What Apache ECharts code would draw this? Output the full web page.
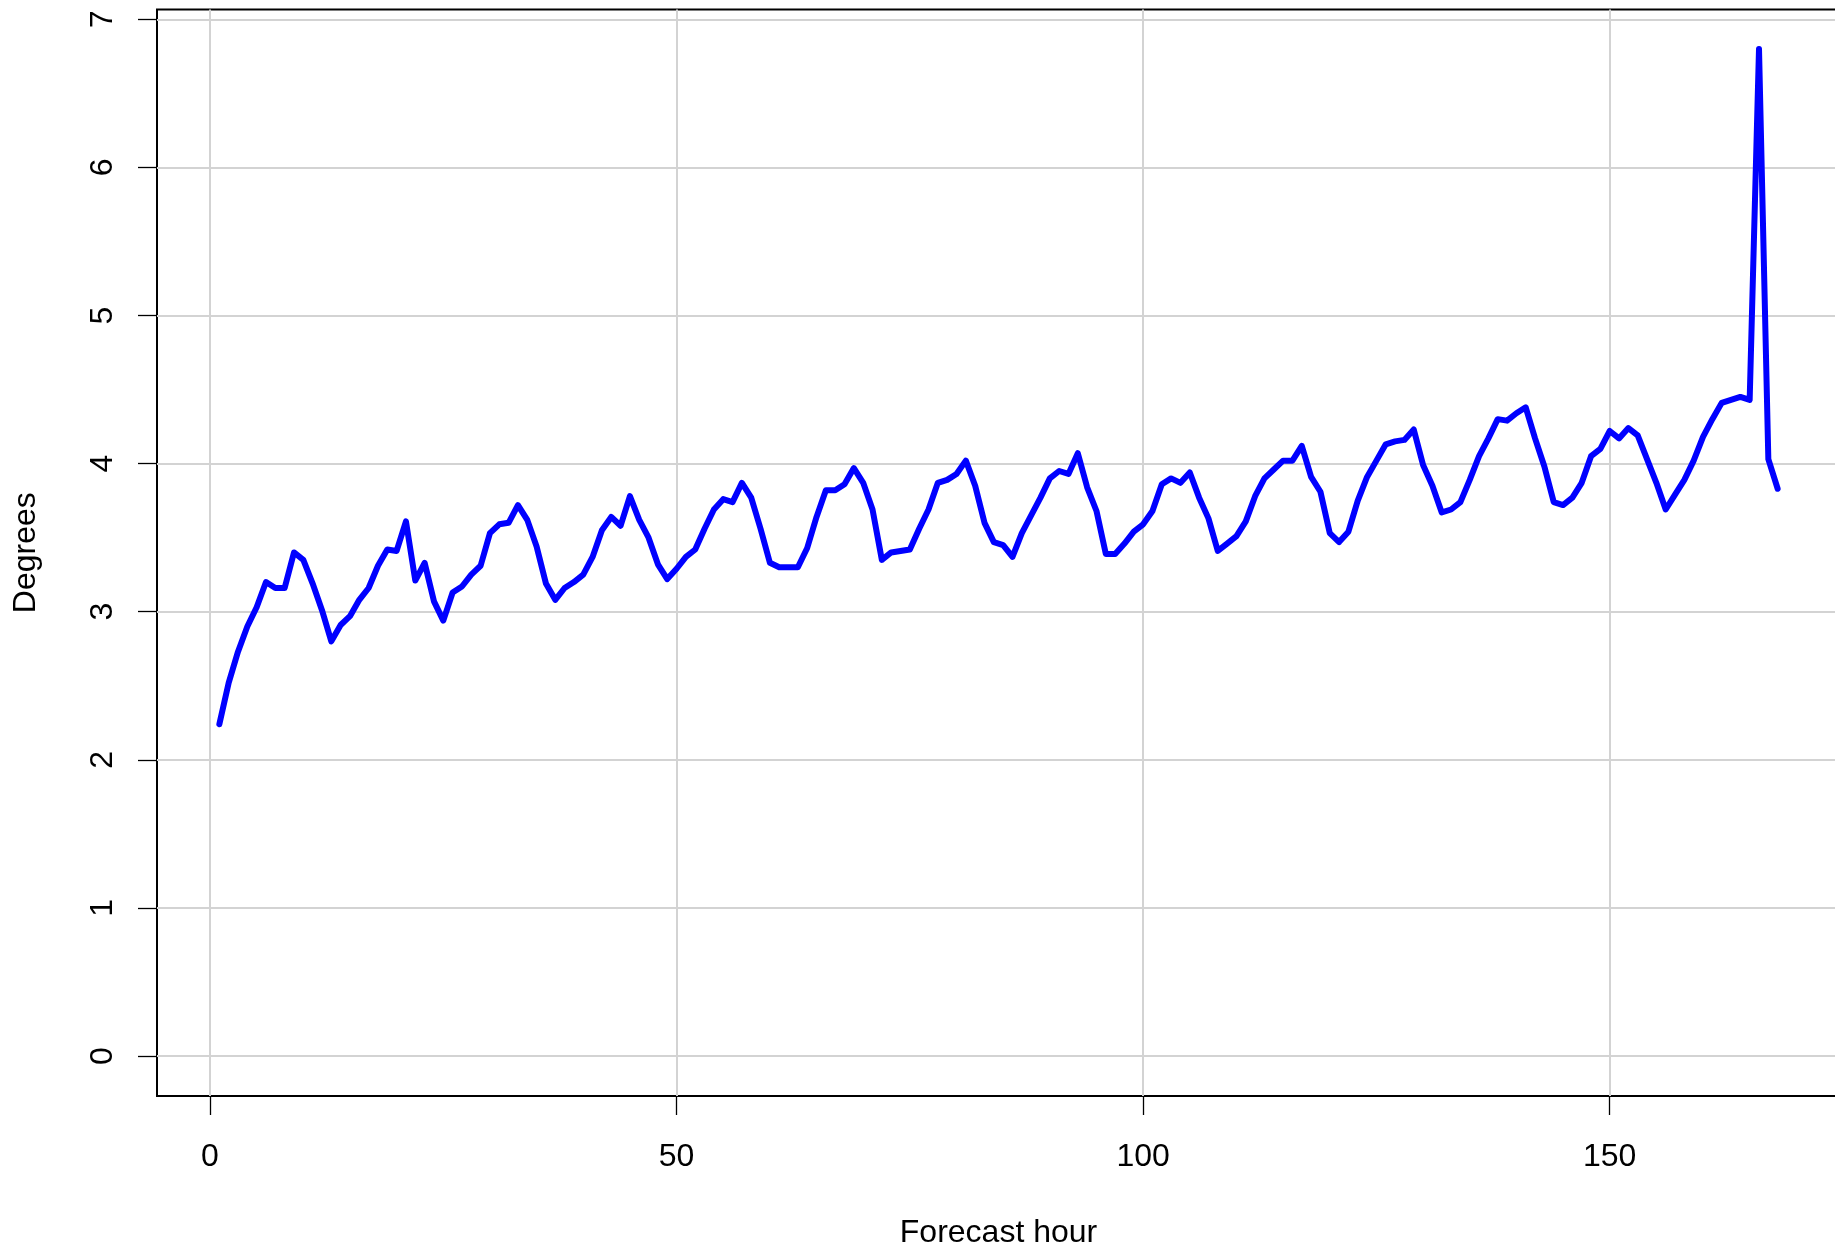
<!DOCTYPE html>
<html>
<head>
<meta charset="utf-8">
<script src="https://cdn.jsdelivr.net/npm/echarts@6/dist/echarts.min.js"></script>
<style>
html,body{margin:0;padding:0;background:#fff;}
#chart{width:1835px;height:1249px;}
</style>
</head>
<body>
<div id="chart"></div>
<script>
const hours = [1,2,3,4,5,6,7,8,9,10,11,12,13,14,15,16,17,18,19,20,
21,22,23,24,25,26,27,28,29,30,31,32,33,34,35,36,37,38,39,40,
41,42,43,44,45,46,47,48,49,50,51,52,53,54,55,56,57,58,59,60,
61,62,63,64,65,66,67,68,69,70,71,72,73,74,75,76,77,78,79,80,
81,82,83,84,85,86,87,88,89,90,91,92,93,94,95,96,97,98,99,100,
101,102,103,104,105,106,107,108,109,110,111,112,113,114,115,116,117,118,119,120,
121,122,123,124,125,126,127,128,129,130,131,132,133,134,135,136,137,138,139,140,
141,142,143,144,145,146,147,148,149,150,151,152,153,154,155,156,157,158,159,160,
161,162,163,164,165,166,167,168];

const degrees = [2.24,2.52,2.73,2.90,3.03,3.20,3.16,3.16,3.40,3.35,
3.19,3.01,2.80,2.91,2.97,3.08,3.16,3.31,3.42,3.41,
3.61,3.21,3.33,3.07,2.94,3.13,3.17,3.25,3.31,3.53,
3.59,3.60,3.72,3.62,3.44,3.19,3.08,3.16,3.20,3.25,
3.37,3.55,3.64,3.58,3.78,3.62,3.50,3.32,3.22,3.29,
3.37,3.42,3.56,3.69,3.76,3.74,3.87,3.77,3.56,3.33,
3.30,3.30,3.30,3.43,3.64,3.82,3.82,3.86,3.97,3.87,
3.69,3.35,3.40,3.41,3.42,3.56,3.69,3.87,3.89,3.93,
4.02,3.85,3.60,3.47,3.45,3.37,3.53,3.65,3.77,3.90,
3.95,3.93,4.07,3.84,3.68,3.39,3.39,3.46,3.54,3.59,
3.68,3.86,3.90,3.87,3.94,3.77,3.63,3.41,3.46,3.51,
3.61,3.78,3.90,3.96,4.02,4.02,4.12,3.91,3.81,3.53,
3.47,3.54,3.75,3.91,4.02,4.13,4.15,4.16,4.23,3.99,
3.85,3.67,3.69,3.74,3.89,4.05,4.17,4.30,4.29,4.34,
4.38,4.17,3.98,3.74,3.72,3.77,3.87,4.05,4.10,4.22,
4.17,4.24,4.19,4.03,3.87,3.69,3.79,3.89,4.02,4.18,
4.30,4.41,4.43,4.45,4.43,6.80,4.03,3.83];

const xTicks = [0, 50, 100, 150];
const yTicks = [0, 1, 2, 3, 4, 5, 6, 7];

const FONT = "'Liberation Sans', Arial, Helvetica, sans-serif";
const chart = echarts.init(document.getElementById('chart'), null, {renderer: 'canvas'});

const seriesData = hours.map((h, i) => [h, degrees[i]]);

const option = {
  backgroundColor: '#ffffff',
  animation: false,
  grid: {
    left: 157, top: 9.5, width: 1683, height: 1086.5,
    containLabel: false, outerBoundsMode: 'none',
    show: true, borderColor: '#000000', borderWidth: 2, backgroundColor: 'transparent'
  },
  xAxis: {
    type: 'value',
    min: -5.68, max: 174.68,
    name: 'Forecast hour',
    nameLocation: 'middle',
    nameGap: 121,
    nameTextStyle: {fontFamily: FONT, fontSize: 32, color: '#000'},
    axisLine: {show: false, onZero: false},
    axisTick: {show: true, length: 19, customValues: xTicks, lineStyle: {color: '#000', width: 1.3}},
    axisLabel: {show: true, customValues: xTicks, margin: 45, fontFamily: FONT, fontSize: 32, color: '#000'},
    splitLine: {show: true, lineStyle: {color: '#d3d3d3', width: 2}}
  },
  yAxis: {
    type: 'value',
    min: -0.27, max: 7.066,
    splitNumber: 7,
    name: 'Degrees',
    nameLocation: 'middle',
    nameGap: 115,
    nameRotate: 90,
    nameTextStyle: {fontFamily: FONT, fontSize: 32, color: '#000'},
    axisLine: {show: false, onZero: false},
    axisTick: {show: true, length: 19, customValues: yTicks, lineStyle: {color: '#000', width: 1.3}},
    axisLabel: {show: true, customValues: yTicks, rotate: 90, margin: 38, fontFamily: FONT, fontSize: 32, color: '#000'},
    splitLine: {show: true, lineStyle: {color: '#d3d3d3', width: 2}}
  },
  series: [{
    type: 'line',
    data: seriesData,
    showSymbol: false,
    symbol: 'none',
    smooth: false,
    lineStyle: {color: '#0000ff', width: 6, cap: 'round', join: 'round'},
    z: 5
  }]
};
chart.setOption(option);
</script>
</body>
</html>
